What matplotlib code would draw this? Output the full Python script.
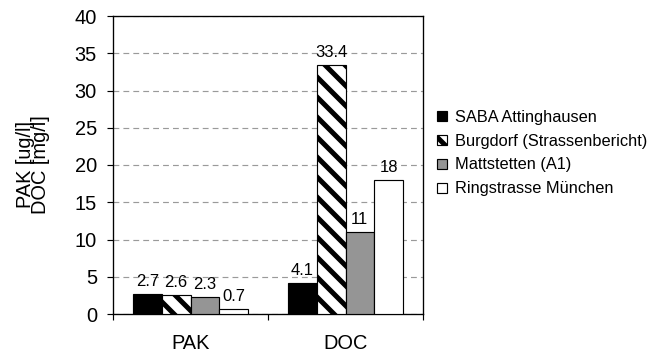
import matplotlib
matplotlib.use("Agg")
import matplotlib.pyplot as plt
import numpy as np
from matplotlib.patches import Patch

plt.rcParams["font.family"] = ["Liberation Sans", "DejaVu Sans"]
plt.rcParams["hatch.linewidth"] = 3.0

categories = ["PAK", "DOC"]
series = ["SABA Attinghausen", "Burgdorf (Strassenbericht)",
          "Mattstetten (A1)", "Ringstrasse München"]
values = {
    "SABA Attinghausen": [2.7, 4.1],
    "Burgdorf (Strassenbericht)": [2.6, 33.4],
    "Mattstetten (A1)": [2.3, 11],
    "Ringstrasse München": [0.7, 18],
}
value_labels = {
    "SABA Attinghausen": ["2.7", "4.1"],
    "Burgdorf (Strassenbericht)": ["2.6", "33.4"],
    "Mattstetten (A1)": ["2.3", "11"],
    "Ringstrasse München": ["0.7", "18"],
}
y_ticks = [0, 5, 10, 15, 20, 25, 30, 35, 40]

styles = {
    "SABA Attinghausen": dict(facecolor="black", hatch=None),
    "Burgdorf (Strassenbericht)": dict(facecolor="white", hatch="\\\\"),
    "Mattstetten (A1)": dict(facecolor="#959595", hatch=None),
    "Ringstrasse München": dict(facecolor="white", hatch=None),
}

dpi = 120
fig = plt.figure(figsize=(652 / dpi, 354 / dpi), dpi=dpi)
ax = fig.add_axes([113 / 652, 40 / 354, 310 / 652, 298 / 354])

x = np.arange(len(categories))
width = 0.185
n = len(series)
for i, name in enumerate(series):
    offs = (i - (n - 1) / 2) * width
    st = styles[name]
    bars = ax.bar(x + offs, values[name], width, facecolor=st["facecolor"],
                  edgecolor="black", linewidth=0.7, hatch=st["hatch"],
                  zorder=3, label=name)
    ax.bar_label(bars, labels=value_labels[name], padding=3, fontsize=10,
                 color="black")

ax.set_xlim(-0.5, 1.5)
ax.set_ylim(0, 40)
ax.set_yticks(y_ticks)
ax.tick_params(axis="y", labelsize=12, length=3.6, width=0.7,
               direction="out", pad=6)
ax.yaxis.grid(True, linestyle=(0, (5, 3.5)), color="#9a9a9a", linewidth=0.7,
              zorder=0)
ax.set_axisbelow(True)

ax.set_xticks(x)
ax.set_xticklabels(categories, fontsize=12)
ax.tick_params(axis="x", which="major", length=0, pad=12)
ax.set_xticks([-0.5, 0.5, 1.5], minor=True)
ax.tick_params(axis="x", which="minor", length=3.6, width=0.7,
               direction="out")

for sp in ax.spines.values():
    sp.set_linewidth(0.8)
    sp.set_color("black")

fig.text(33 / 652, 1 - 165 / 354, "PAK [ug/l]\nDOC [mg/l]", fontsize=12,
         rotation=90, ha="center", va="center", multialignment="center",
         linespacing=0.75)

handles = [Patch(facecolor=styles[s]["facecolor"], edgecolor="black",
                 hatch=styles[s]["hatch"], linewidth=0.7) for s in series]
fig.legend(handles, series, loc="center left",
           bbox_to_anchor=(437 / 652, 1 - 153 / 354), frameon=False,
           fontsize=9.8, handlelength=0.6, handleheight=0.6,
           handletextpad=0.5, labelspacing=0.55, borderpad=0,
           borderaxespad=0)

fig.savefig("out.png", dpi=dpi)
